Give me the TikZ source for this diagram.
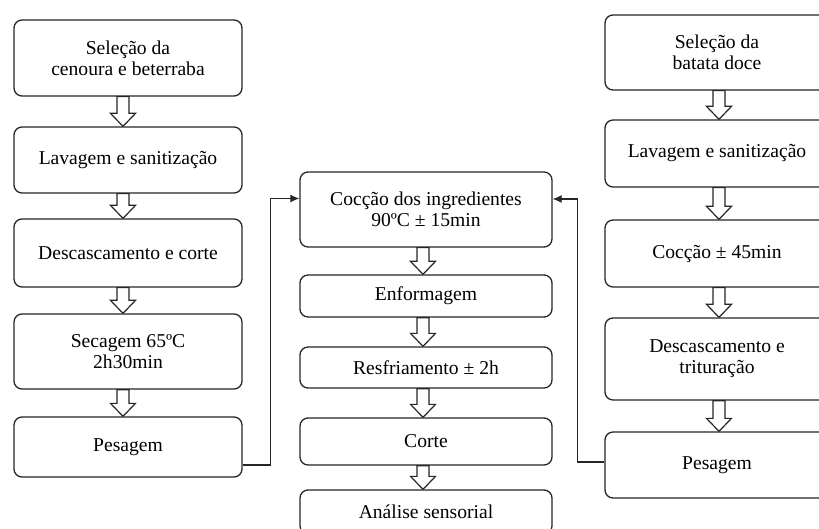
\documentclass[tikz,border=0pt]{standalone}
\usepackage{fontspec}
\setmainfont{Liberation Serif}
\usepackage{tikz}
\usetikzlibrary{arrows.meta, calc}

% seta vazada entre duas etapas (opcional: deslocamento horizontal)
\newcommand{\setaoca}[3][0pt]{%
  \draw[oca] let \p1=(#2.south), \p2=(#3.north) in
    (\x1+#1-3pt,\y1) -- (\x1+#1-3pt,\y2+6.5pt) -- (\x1+#1-6.25pt,\y2+6.5pt) -- (\x1+#1,\y2)
    -- (\x1+#1+6.25pt,\y2+6.5pt) -- (\x1+#1+3pt,\y2+6.5pt) -- (\x1+#1+3pt,\y1) -- cycle;}

\begin{document}
\begin{tikzpicture}[x=0.5pt, y=-0.5pt,
    etapa/.style={draw=black!85, rounded corners=4pt, line width=0.65pt, align=center,
                  inner sep=2pt, font=\fontsize{9.8}{10.6}\selectfont},
    esq/.style={etapa, minimum width=114pt},
    meio/.style={etapa, minimum width=126pt},
    dir/.style={etapa, minimum width=112pt},
    oca/.style={draw=black!85, fill=white, line width=0.6pt},
    liga/.style={draw=black!85, line width=0.6pt, -{Latex[length=4.5pt,width=4pt]}}]
    \useasboundingbox (0,0) rectangle (819,529);

    % cenoura e beterraba
    \node[esq, minimum height=38pt] (sel1) at (128,58) {Seleção da\\cenoura e beterraba};
    \node[esq, minimum height=33pt] (lav1) at (128,160) {Lavagem e sanitização};
    \node[esq, minimum height=34pt] (des1) at (128,253) {Descascamento e corte};
    \node[esq, minimum height=37.5pt] (sec1) at (128,351.5) {Secagem 65ºC\\ 2h30min};
    \node[esq, minimum height=30pt] (pes1) at (128,447) {Pesagem};

    % etapas comuns
    \node[meio, minimum height=37.5pt] (coc) at (426,209.5) {Cocção dos ingredientes\\90ºC ± 15min};
    \node[meio, minimum height=21pt] (enf) at (426,296) {Enformagem};
    \node[meio, minimum height=20.5pt] (res) at (426,367.5) {Resfriamento ± 2h};
    \node[meio, minimum height=23.5pt] (cor) at (426,441.5) {Corte};
    \node[meio, minimum height=22pt] (ana) at (426,512) {Análise sensorial};

    % batata doce
    \node[dir, minimum height=37.5pt] (sel2) at (717,52.5) {Seleção da\\batata doce};
    \node[dir, minimum height=33.5pt] (lav2) at (717,153.5) {Lavagem e sanitização};
    \node[dir, minimum height=33.5pt] (coc2) at (717,253.5) {Cocção ± 45min};
    \node[dir, minimum height=41pt] (des2) at (717,359) {Descascamento e\\trituração};
    \node[dir, minimum height=33pt] (pes2) at (717,465) {Pesagem};

    % setas vazadas
    \setaoca[-2.5pt]{sel1}{lav1}
    \setaoca[-2.5pt]{lav1}{des1}
    \setaoca[-2.5pt]{des1}{sec1}
    \setaoca[-2.5pt]{sec1}{pes1}
    \setaoca[-1.5pt]{coc}{enf}
    \setaoca[-1.5pt]{enf}{res}
    \setaoca[-1.5pt]{res}{cor}
    \setaoca[-1.5pt]{cor}{ana}
    \setaoca[1pt]{sel2}{lav2}
    \setaoca[1pt]{lav2}{coc2}
    \setaoca[1pt]{coc2}{des2}
    \setaoca[1pt]{des2}{pes2}

    % ligacoes para a coccao
    \draw[liga] ([yshift=-9pt]pes1.east) -- ++(28,0) |- ([yshift=5.5pt]coc.west);
    \draw[liga] ([yshift=1.5pt]pes2.west) -- ++(-27,0) |- ([yshift=5.25pt]coc.east);
\end{tikzpicture}
\end{document}
